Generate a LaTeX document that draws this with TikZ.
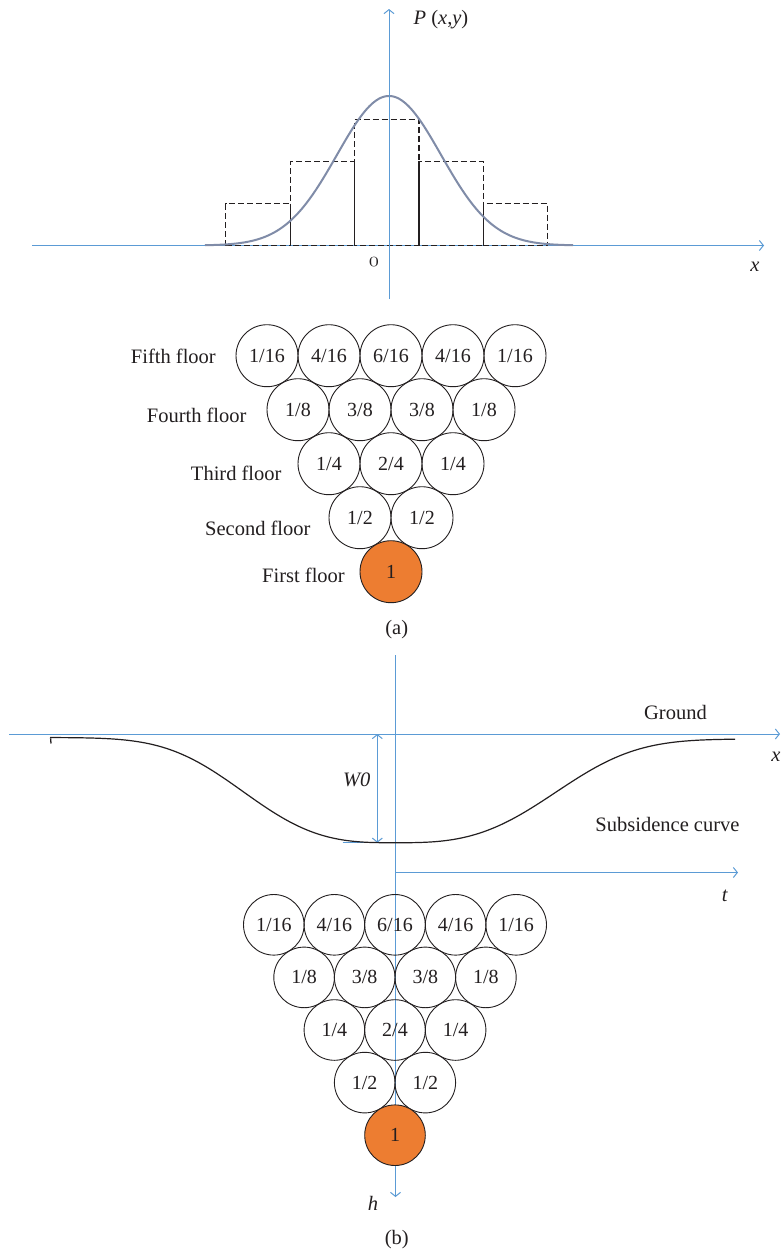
\documentclass[tikz,border=0pt]{standalone}
\usepackage{fontspec}
\setmainfont{Liberation Serif}
\usetikzlibrary{arrows.meta}
\definecolor{axblue}{RGB}{91,155,213}
\definecolor{gausscol}{RGB}{128,140,168}
\definecolor{ballorange}{RGB}{237,125,49}
\definecolor{ink}{RGB}{35,31,32}
\begin{document}
\begin{tikzpicture}[x=1pt,y=-1pt,
  axis/.style={draw=axblue, line width=1pt},
  tip/.style={-{Straight Barb[length=4pt,width=10pt]}},
  ball/.style={circle, draw=ink, line width=0.9pt, inner sep=0pt, text=ink, minimum size=62pt, font=\fontsize{20}{22}\selectfont},
  ballb/.style={ball, minimum size=60.6pt},
  lab/.style={text=ink, font=\fontsize{20.5}{23}\selectfont, inner sep=0pt},
  bar/.style={draw=ink, line width=1.3pt, dash pattern=on 6pt off 3pt},
  barsolid/.style={draw=ink, line width=1.3pt}]
\useasboundingbox[fill=white] (0,0) rectangle (781,1254);

% ---------------- panel (a) ----------------
\coordinate (xa0) at (32,245.5); \coordinate (xa1) at (764,245.5);
\draw[axis,tip] (xa0) -- (xa1);
% bars
\draw[bar] (225.7,245.5) rectangle (290.3,203.7);
\draw[bar] (290.3,245.5) rectangle (354.3,161.3);
\draw[bar] (354.3,245.5) rectangle (419,119.7);
\draw[bar] (419,245.5) rectangle (483.3,161.3);
\draw[bar] (483.3,245.5) rectangle (547.7,203.7);
\draw[barsolid] (290.3,203.7) -- (290.3,245.5);
\draw[barsolid] (354.3,161.3) -- (354.3,245.5);
\draw[barsolid] (419,161.3) -- (419,245.5);
\draw[barsolid] (483.3,203.7) -- (483.3,245.5);
% gaussian
\draw[gausscol, line width=2pt] plot[domain=-184:184, samples=160, smooth] ({389+\x},{245.5-149.5*exp(-0.5*(\x/52)^2)});
\coordinate (ya0) at (389,299); \coordinate (ya1) at (389,9);
\draw[axis,tip] (ya0) -- (ya1);
\node[lab] (P) at (441,20) {\textit{P} (\textit{x},\textit{y})};
\node[lab] (O) at (374,262) {\usefont{OML}{cmm}{m}{it}0};
\node[lab] (xa) at (755,267) {\textit{x}};

% balls (a)
\node[ball] (a51) at (267,355.7) {1/16};
\node[ball] (a52) at (329,355.7) {4/16};
\node[ball] (a53) at (391,355.7) {6/16};
\node[ball] (a54) at (453,355.7) {4/16};
\node[ball] (a55) at (515,355.7) {1/16};
\node[ball] (a41) at (298,409.7) {1/8};
\node[ball] (a42) at (360,409.7) {3/8};
\node[ball] (a43) at (422,409.7) {3/8};
\node[ball] (a44) at (484,409.7) {1/8};
\node[ball] (a31) at (329,463.7) {1/4};
\node[ball] (a32) at (391,463.7) {2/4};
\node[ball] (a33) at (453,463.7) {1/4};
\node[ball] (a21) at (360,517.7) {1/2};
\node[ball] (a22) at (422,517.7) {1/2};
\node[ball, fill=ballorange] (a11) at (391,571.7) {1};

\node[lab, anchor=east] (f5) at (216,356) {Fifth floor};
\node[lab, anchor=east] (f4) at (246.7,415) {Fourth floor};
\node[lab, anchor=east] (f3) at (281.7,473) {Third floor};
\node[lab, anchor=east] (f2) at (310.7,528) {Second floor};
\node[lab, anchor=east] (f1) at (345,575) {First floor};
\node[lab] (capa) at (396.7,630) {(a)};

% ---------------- panel (b) ----------------
\coordinate (gr0) at (9,734); \coordinate (gr1) at (780,734);
\draw[axis,tip] (gr0) -- (gr1);
\coordinate (yb0) at (395.5,655); \coordinate (yb1) at (395.5,1197);
\draw[axis,tip] (yb0) -- (yb1);
\coordinate (tb0) at (395.5,872.5); \coordinate (tb1) at (738,872.5);
\draw[axis,tip] (tb0) -- (tb1);
\coordinate (w0a) at (377.3,734); \coordinate (w0b) at (377.3,842.7);
\draw[axis,{Straight Barb[length=4pt,width=10pt]}-{Straight Barb[length=4pt,width=10pt]}] (w0a) -- (w0b);
\coordinate (mn0) at (342.7,842.7); \coordinate (mn1) at (395.5,842.7);
\draw[axis] (mn0) -- (mn1);

% subsidence curve
\draw[ink, line width=1.3pt] (51,743.5) -- (50.6,738.3);
\draw[ink, line width=1.2pt]
  plot[domain=-345:0, samples=120, smooth] ({395+\x},{737.5+105.2*exp(-(abs(\x)/174)^3)})
  -- plot[domain=0:340, samples=120, smooth] ({395+\x},{739+103.7*exp(-(\x/184)^3)});

\node[lab] (ground) at (675.5,712) {Ground};
\node[lab] (xb) at (776,757) {\textit{x}};
\node[lab] (w0) at (356.7,780) {\textit{W0}};
\node[lab] (subs) at (667.5,824) {Subsidence curve};
\node[lab] (tb) at (725,896) {\textit{t}};
\node[lab] (hb) at (373,1203) {\textit{h}};
\node[lab] (capb) at (396.7,1240) {(b)};

% balls (b)
\node[ballb] (b51) at (273.8,924.8) {1/16};
\node[ballb] (b52) at (334.4,924.8) {4/16};
\node[ballb] (b53) at (395,924.8) {6/16};
\node[ballb] (b54) at (455.6,924.8) {4/16};
\node[ballb] (b55) at (516.2,924.8) {1/16};
\node[ballb] (b41) at (304.1,977.4) {1/8};
\node[ballb] (b42) at (364.7,977.4) {3/8};
\node[ballb] (b43) at (425.3,977.4) {3/8};
\node[ballb] (b44) at (485.9,977.4) {1/8};
\node[ballb] (b31) at (334.4,1030) {1/4};
\node[ballb] (b32) at (395,1030) {2/4};
\node[ballb] (b33) at (455.6,1030) {1/4};
\node[ballb] (b21) at (364.7,1082.6) {1/2};
\node[ballb] (b22) at (425.3,1082.6) {1/2};
\node[ballb, fill=ballorange] (b11) at (395,1135.2) {1};
\end{tikzpicture}
\end{document}
